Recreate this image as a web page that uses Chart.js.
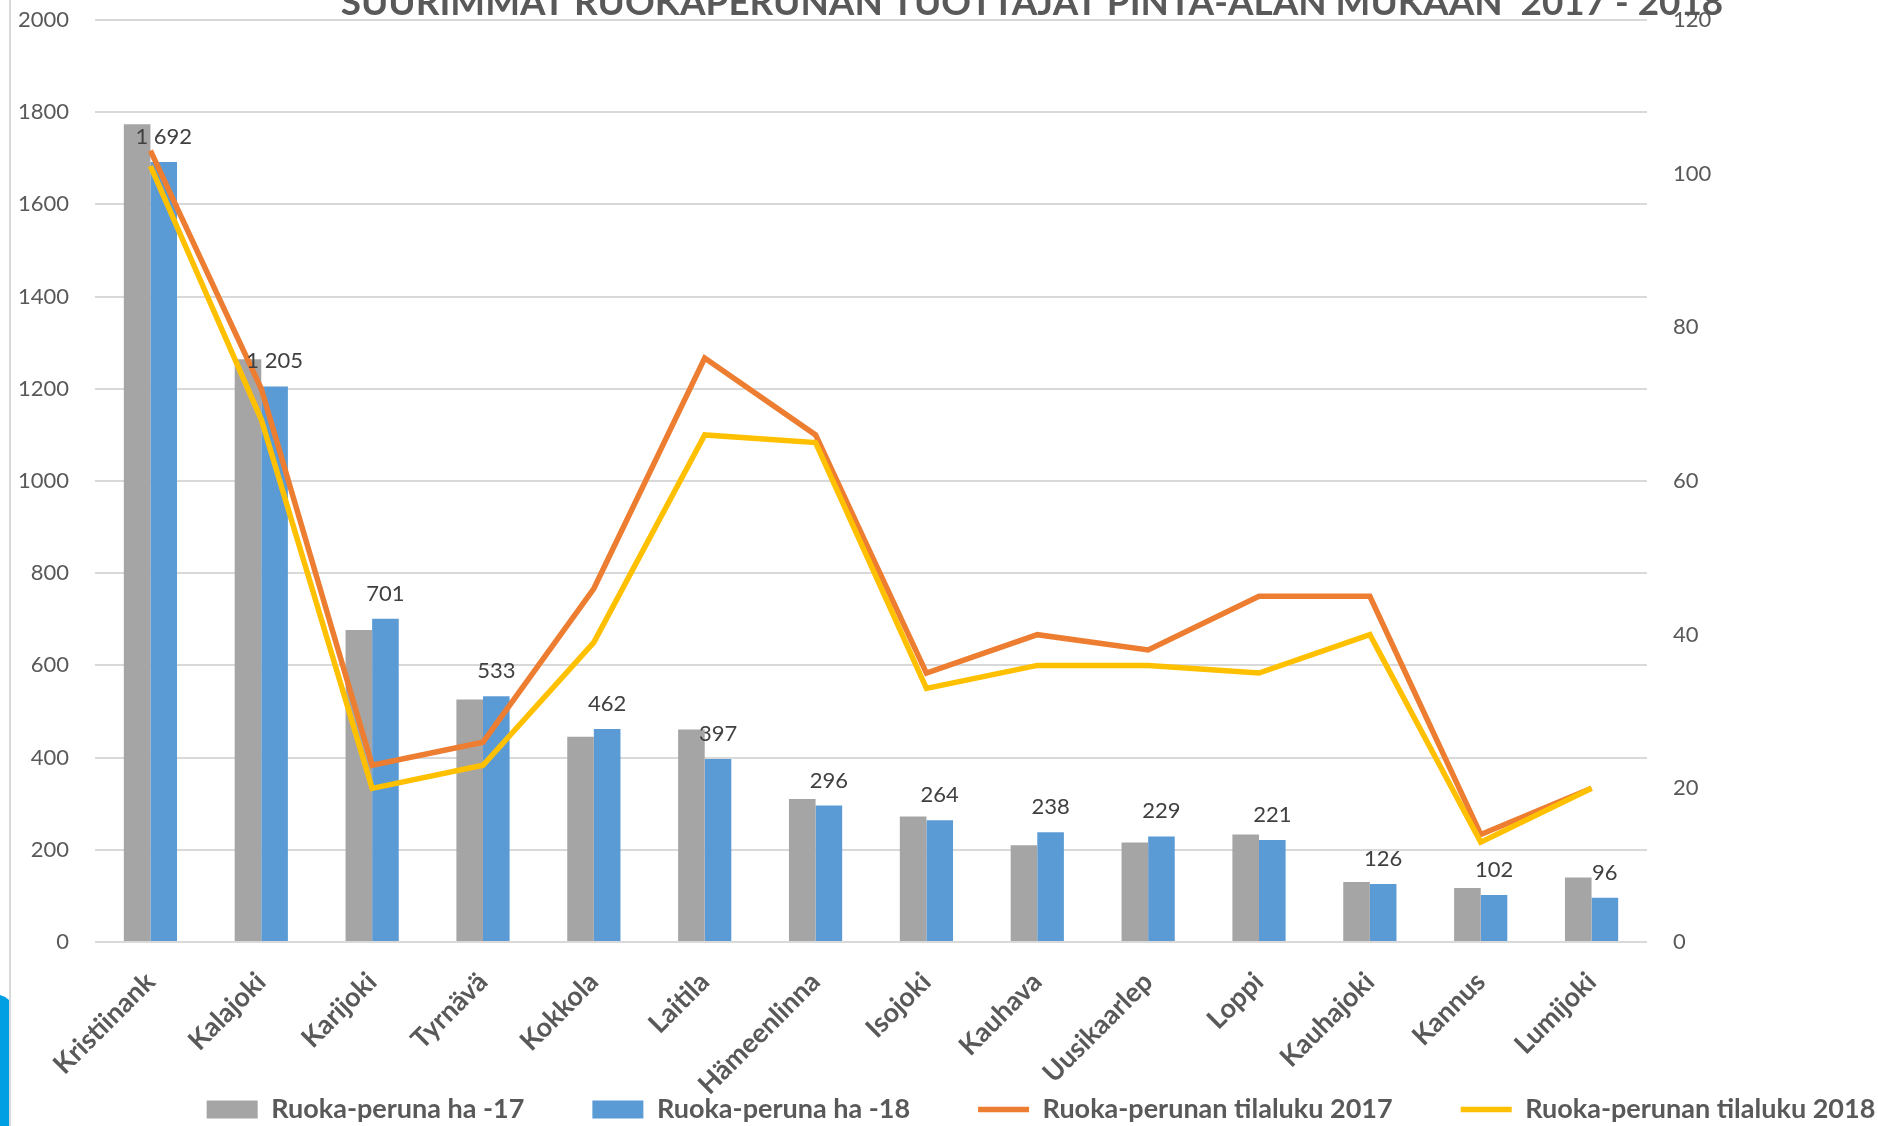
<!DOCTYPE html>
<html>
<head>
<meta charset="utf-8">
<title>Suurimmat ruokaperunan tuottajat</title>
<script src="https://cdn.jsdelivr.net/npm/chart.js@4.4.0/dist/chart.umd.min.js"></script>
<style>
    html, body { margin: 0; padding: 0; background: #fff; }
    #wrap { position: relative; width: 1878px; height: 1126px; }
</style>
</head>
<body>
<div id="wrap"><canvas id="chart" width="1878" height="1126"></canvas></div>
<script>
// ===== DATA =====
const categories = ['Kristiinank', 'Kalajoki', 'Karijoki', 'Tyrnävä', 'Kokkola', 'Laitila', 'Hämeenlinna',
    'Isojoki', 'Kauhava', 'Uusikaarlep', 'Loppi', 'Kauhajoki', 'Kannus', 'Lumijoki'];
const seriesNames = ['Ruoka-peruna ha -17', 'Ruoka-peruna ha -18', 'Ruoka-perunan tilaluku 2017', 'Ruoka-perunan tilaluku 2018'];
const ha17 = [1774, 1264, 677, 526, 445, 461, 310, 272, 210, 216, 233, 130, 117, 140];
const ha18 = [1692, 1205, 701, 533, 462, 397, 296, 264, 238, 229, 221, 126, 102, 96];
const tilat17 = [103, 72, 23, 26, 46, 76, 66, 35, 40, 38, 45, 45, 14, 20];
const tilat18 = [101, 68, 20, 23, 39, 66, 65, 33, 36, 36, 35, 40, 13, 20];
const leftMax = 2000, leftStep = 200;
const rightMax = 120, rightStep = 20;
const title = 'SUURIMMAT RUOKAPERUNAN TUOTTAJAT PINTA-ALAN MUKAAN  2017 - 2018';

const COLORS = { gray: '#A5A5A5', blue: '#5B9BD5', orange: '#ED7D31', yellow: '#FFC000', text: '#595959', grid: '#D9D9D9' };
const FONT = 'Lato, "Open Sans", sans-serif';
const LEGEND_PAD = 68;

// Etiketit sinisten pylväiden päälle ("1 692")
const barLabelPlugin = {
    id: 'barLabels',
    afterDatasetsDraw(chart) {
        const ctx = chart.ctx;
        const meta = chart.getDatasetMeta(1);
        ctx.save();
        ctx.font = `22px ${FONT}`;
        ctx.fillStyle = '#404040';
        ctx.textAlign = 'center';
        ctx.textBaseline = 'alphabetic';
        meta.data.forEach((bar, i) => {
            const v = ha18[i];
            const txt = v >= 1000 ? Math.floor(v / 1000) + ' ' + String(v % 1000).padStart(3, '0') : String(v);
            ctx.fillText(txt, bar.x, bar.y - 18);
        });
        ctx.restore();
    }
};

// Otsikko (osittain kuvan yläreunan ulkopuolella) ja vasemman reunan koristeet
const framePlugin = {
    id: 'frame',
    beforeDraw(chart) {
        const ctx = chart.ctx;
        ctx.save();
        ctx.fillStyle = '#fff';
        ctx.fillRect(0, 0, chart.width, chart.height);
        ctx.fillStyle = COLORS.grid;
        ctx.fillRect(9, 0, 2, chart.height);
        ctx.fillStyle = '#009FE3';
        ctx.beginPath();
        ctx.moveTo(0, 995);
        ctx.quadraticCurveTo(5, 996, 9, 1000);
        ctx.lineTo(9, chart.height);
        ctx.lineTo(0, chart.height);
        ctx.closePath();
        ctx.fill();
        ctx.restore();
    },
    afterDraw(chart) {
        const ctx = chart.ctx;
        ctx.save();
        let size = 36;
        ctx.font = `bold ${size}px ${FONT}`;
        size = size * 1383 / ctx.measureText(title).width;
        ctx.font = `bold ${size}px ${FONT}`;
        ctx.fillStyle = COLORS.text;
        ctx.textAlign = 'center';
        ctx.textBaseline = 'alphabetic';
        ctx.fillText(title, 1032, 15);
        ctx.restore();
    },
    afterLayout(chart) {
        // selite alas ja hieman oikealle kuten alkuperäisessä
        const lg = chart.legend;
        if (lg) {
            lg.left += 102;
            lg.right += 102;
            lg.top = 1096 - LEGEND_PAD;
        }
    }
};

const noPad = (scale) => {
    scale.paddingTop = 0;
    scale.paddingBottom = 0;
};

const chart = new Chart(document.getElementById('chart'), {
    type: 'bar',
    data: {
        labels: categories,
        datasets: [
            { type: 'bar', label: seriesNames[0], data: ha17, backgroundColor: COLORS.gray, yAxisID: 'y', order: 2, pointStyle: 'rect' },
            { type: 'bar', label: seriesNames[1], data: ha18, backgroundColor: COLORS.blue, yAxisID: 'y', order: 3, pointStyle: 'rect' },
            { type: 'line', label: seriesNames[2], data: tilat17, borderColor: COLORS.orange, backgroundColor: COLORS.orange,
                borderWidth: 5.5, pointRadius: 0, pointStyle: 'line', yAxisID: 'y1', order: 1, tension: 0 },
            { type: 'line', label: seriesNames[3], data: tilat18, borderColor: COLORS.yellow, backgroundColor: COLORS.yellow,
                borderWidth: 5.5, pointRadius: 0, pointStyle: 'line', yAxisID: 'y1', order: 0, tension: 0 }
        ]
    },
    options: {
        responsive: false,
        animation: false,
        devicePixelRatio: 1,
        layout: { padding: { top: 20, left: 0, right: 0, bottom: 0 } },
        datasets: {
            bar: { categoryPercentage: 0.48, barPercentage: 1.0 }
        },
        plugins: {
            title: { display: false },
            tooltip: { enabled: false },
            legend: {
                position: 'bottom',
                align: 'center',
                maxHeight: 30,
                labels: {
                    usePointStyle: true,
                    pointStyleWidth: 51,
                    boxHeight: 18,
                    padding: LEGEND_PAD,
                    color: COLORS.text,
                    font: { family: FONT, size: 27, weight: 'bold' },
                    sort: (a, b) => a.datasetIndex - b.datasetIndex
                }
            }
        },
        scales: {
            x: {
                grid: { display: false },
                border: { display: false },
                ticks: {
                    color: COLORS.text,
                    font: { family: FONT, size: 27, weight: 'bold' },
                    maxRotation: 45,
                    minRotation: 45,
                    padding: 16,
                    autoSkip: false
                },
                afterFit(scale) { scale.height = 154; scale.paddingLeft = 0; scale.paddingRight = 0; }
            },
            y: {
                position: 'left',
                min: 0,
                max: leftMax,
                grid: { color: COLORS.grid, lineWidth: 2, drawTicks: false },
                border: { display: false },
                ticks: { stepSize: leftStep, padding: 26, color: COLORS.text, font: { family: FONT, size: 22 },
                    callback: v => String(v) },
                afterFit(scale) { scale.width = 95; noPad(scale); }
            },
            y1: {
                position: 'right',
                min: 0,
                max: rightMax,
                grid: { display: false, drawTicks: false },
                border: { display: false },
                ticks: { stepSize: rightStep, padding: 26, color: COLORS.text, font: { family: FONT, size: 22 },
                    callback: v => String(v) },
                afterFit(scale) { scale.width = 231; noPad(scale); }
            }
        }
    },
    plugins: [framePlugin, barLabelPlugin]
});
</script>
</body>
</html>
